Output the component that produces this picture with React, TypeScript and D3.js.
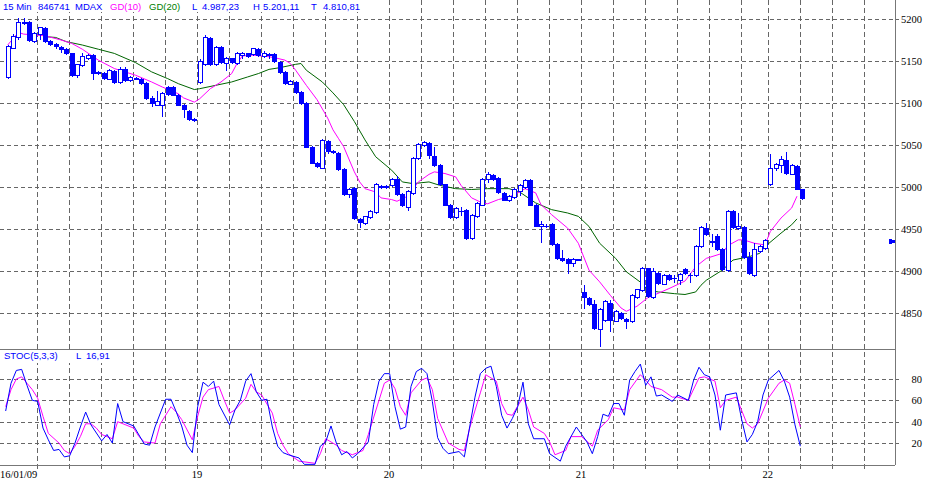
import React from "react";
import * as d3 from "d3";

// ---------- data ----------
const dayLabels = ["16/01/09", "19", "20", "21", "22"];
const dayStarts = [0, 36, 72, 108, 143];

const opens = [
  5131,5166,5178,5197,5196,5174,5182,5189,5174,5170,5167,5164,5159,5133,5145,5153,5157,5137,5136,5129,5138,5125,5140,5127,5130,5129,5124,5106,5098,5098,5119,5119,5110,5098,5091,5081,
  5125,5146,5177,5146,5167,5148,5153,5148,5157,5159,5158,5164,5156,5158,5158,5149,5137,5123,5125,5113,5100,5048,5029,5023,5055,5043,5041,5021,4992,4999,4962,4957,4964,4970,5001,5000,
  5002,5010,4992,4976,4993,5034,5050,5052,5037,5026,5003,4979,4964,4971,4973,4939,4965,4979,5009,5014,5011,4993,4984,4988,4995,5000,5008,4979,4953,4954,4956,4932,4916,4914,4909,4914,
  4875,4868,4861,4831,4842,4862,4841,4850,4843,4840,4869,4877,4903,4869,4898,4885,4895,4892,4889,4902,4895,4895,4930,4951,4936,4942,4926,4901,4971,4951,4952,4917,4895,4924,4927,
  5003,5022,5026,5032,5016,5025,4997,
];
const highs = [
  5169,5182,5201,5201,5198,5185,5191,5190,5175,5171,5168,5165,5160,5147,5160,5158,5158,5138,5137,5140,5139,5143,5143,5132,5131,5130,5125,5108,5114,5113,5120,5120,5111,5099,5092,5082,
  5152,5181,5179,5168,5168,5155,5154,5161,5161,5160,5166,5165,5162,5160,5159,5150,5138,5127,5126,5114,5101,5049,5030,5057,5056,5044,5042,5022,4999,5000,4963,4966,4972,5005,5002,5002,
  5011,5013,4993,4996,5036,5052,5055,5053,5048,5027,5004,4980,4976,4976,4974,4968,4982,5011,5018,5015,5012,4994,4990,4999,5003,5009,5010,4980,4960,4956,4957,4933,4925,4915,4915,4914,
  4883,4869,4866,4856,4865,4866,4853,4851,4844,4872,4879,4905,4904,4904,4899,4896,4896,4895,4897,4903,4897,4931,4953,4957,4944,4944,4927,4973,4973,4969,4953,4922,4933,4931,4938,
  5039,5028,5037,5042,5027,5026,4998,
];
const lows = [
  5130,5165,5176,5194,5174,5173,5176,5173,5169,5166,5161,5158,5132,5131,5144,5152,5129,5135,5129,5128,5124,5124,5126,5126,5128,5123,5105,5096,5097,5084,5110,5109,5097,5083,5080,5079,
  5124,5145,5145,5145,5148,5139,5148,5147,5154,5155,5157,5156,5155,5154,5149,5136,5123,5122,5112,5099,5047,5028,5024,5022,5041,5040,5020,4991,4988,4962,4952,4956,4963,4969,4999,4999,
  5001,4991,4977,4973,4992,5033,5049,5035,5025,5002,4978,4963,4963,4967,4938,4938,4964,4978,5006,5008,4993,4984,4983,4987,4990,4999,4978,4953,4935,4952,4931,4914,4912,4897,4906,4913,
  4856,4860,4831,4811,4841,4828,4840,4843,4832,4839,4868,4876,4869,4868,4885,4884,4889,4887,4885,4896,4887,4894,4929,4943,4930,4925,4901,4900,4951,4950,4916,4896,4894,4923,4926,
  5002,5020,5018,5016,5015,4997,4986,
];
const closes = [
  5168,5180,5196,5195,5175,5183,5190,5174,5170,5168,5164,5159,5133,5146,5156,5157,5136,5136,5130,5139,5125,5141,5127,5131,5129,5124,5106,5100,5102,5112,5111,5110,5098,5093,5081,5080,
  5150,5179,5146,5167,5149,5154,5149,5160,5159,5156,5165,5157,5160,5157,5150,5137,5124,5126,5113,5100,5048,5029,5025,5056,5043,5042,5021,4992,4998,4963,4958,4965,4971,5004,5000,5001,
  5010,4992,4978,4995,5035,5051,5054,5038,5026,5003,4979,4964,4975,4971,4939,4967,4981,5010,5015,5009,4994,4985,4989,4998,5002,5008,4979,4954,4956,4953,4932,4915,4913,4910,4914,4913,
  4869,4861,4832,4855,4864,4842,4852,4844,4841,4871,4878,4904,4870,4900,4886,4895,4890,4892,4896,4897,4895,4930,4952,4944,4935,4926,4902,4971,4952,4954,4917,4897,4926,4930,4937,
  5023,5027,5033,5017,5026,4998,4987,
];

// GD(10) / GD(20): [bar index, value]
const gd10: [number, number][] = [
  [0,5169],[2,5184],[3,5182],[7,5180],[10,5175],[12,5171],[14,5164],[17,5151],[20,5141],[24,5133],[27,5125],[29,5119],[32,5111],[33,5106],[35,5101],
  [36,5105],[38,5117],[40,5125],[42,5135],[43,5147],[44,5156],[46,5157],[49,5155],[50,5154],[52,5151],[53,5147],[54,5139],[56,5121],[58,5104],[60,5082],[61,5068],[62,5058],[63,5048],[65,5018],[66,5006],[67,4998],[69,4994],[70,4987],
  [72,4985],[73,4983],[75,4989],[77,5006],[79,5015],[80,5018],[82,5016],[84,5012],[85,5002],[87,4987],[89,4981],[90,4980],[92,4985],[94,4988],[96,4994],[97,4998],[99,4993],[100,4979],[102,4967],[105,4951],[107,4933],
  [109,4901],[111,4887],[113,4871],[115,4856],[116,4852],[118,4858],[120,4868],[124,4879],[127,4888],[129,4905],[131,4915],[134,4921],[135,4930],[137,4937],[138,4937],[140,4933],[142,4931],
  [143,4947],[145,4963],[147,4975],[148,4989],
];
const gd20: [number, number][] = [
  [7,5179],[9,5178],[11,5173],[14,5169],[17,5164],[20,5159],[24,5148],[27,5137],[30,5129],[32,5123],[35,5116],
  [36,5117],[39,5121],[42,5125],[45,5131],[47,5135],[49,5140],[51,5142],[54,5146],[55,5147],[56,5139],[59,5125],[61,5112],[63,5098],[65,5078],[67,5056],[69,5036],
  [72,5020],[74,5006],[76,5004],[79,5006],[81,5002],[84,4998],[87,4997],[90,4998],[94,4998],[96,4994],[99,4981],[102,4973],[105,4969],[107,4965],
  [109,4953],[111,4933],[114,4915],[116,4899],[119,4885],[120,4877],[122,4875],[125,4873],[127,4872],[129,4875],[130,4883],[131,4889],[134,4901],[136,4913],[139,4917],[141,4921],[142,4929],
  [145,4945],[147,4955],[148,4962],
];

// STOC(5,3,3): [bar index, value]
const stochK: [number, number][] = [
  [0,50],[1,76],[2,88],[3,89],[4,74],[5,60],[6,59],[7,34],[8,23],[9,13],[10,14],[11,7],[12,8],[13,20],[14,35],[15,49],[16,37],[18,22],[19,28],[20,20],[21,57],[22,40],[24,36],[26,19],[27,18],[28,35],[30,61],[31,61],[32,49],[33,36],[34,18],[35,11],
  [36,54],[37,77],[38,73],[39,78],[40,56],[42,37],[43,51],[44,60],[45,78],[46,85],[47,68],[48,60],[49,61],[50,35],[51,17],[52,11],[53,9],[55,6],[56,0],[58,0],[59,17],[60,21],[61,36],[62,20],[63,9],[64,12],[65,6],[66,10],[68,21],[69,56],[70,78],[71,85],
  [72,85],[73,54],[74,33],[75,35],[76,73],[77,87],[78,90],[79,85],[80,59],[81,25],[82,15],[83,10],[85,12],[86,7],[87,35],[88,63],[89,85],[90,90],[91,92],[92,73],[93,46],[94,34],[95,43],[96,54],[97,77],[98,38],[99,24],[101,24],[102,10],[104,3],[105,17],[107,35],
  [108,28],[109,21],[110,10],[111,26],[112,47],[113,45],[114,57],[115,57],[116,46],[117,79],[118,87],[119,94],[120,74],[121,82],[122,64],[123,65],[125,59],[126,65],[128,60],[129,79],[130,91],[131,84],[132,82],[133,65],[134,32],[135,65],[137,67],[138,42],[139,21],[140,28],[141,40],[142,65],
  [143,79],[145,88],[146,78],[147,63],[148,37],[149,17],
];
const stochD: [number, number][] = [
  [0,54],[1,70],[2,80],[3,82],[4,76],[5,70],[6,62],[7,45],[8,29],[10,20],[11,13],[12,10],[13,17],[14,26],[15,38],[16,38],[17,34],[18,28],[20,24],[21,40],[22,38],[24,34],[25,26],[26,21],[28,20],[29,38],[31,54],[32,49],[33,42],[35,23],
  [36,45],[37,63],[38,70],[40,73],[41,60],[42,48],[43,51],[45,62],[46,75],[47,68],[48,65],[50,48],[51,29],[52,18],[53,10],[55,3],[58,1],[59,10],[60,24],[62,18],[63,13],[65,9],[67,13],[68,28],[70,60],[71,76],
  [72,79],[73,71],[74,54],[75,46],[76,67],[78,79],[79,81],[80,70],[81,43],[83,20],[85,14],[86,13],[87,34],[89,67],[90,84],[92,78],[93,57],[94,47],[95,46],[97,63],[98,51],[99,35],[101,29],[102,21],[103,9],[105,13],[106,26],
  [108,26],[110,17],[111,32],[113,42],[114,53],[116,51],[117,70],[119,84],[120,79],[121,73],[123,70],[125,63],[126,63],[128,60],[130,81],[131,82],[133,78],[134,53],[135,60],[137,63],[139,38],[140,34],[141,38],
  [143,62],[145,76],[146,79],[147,76],[148,56],[149,35],
];

const priceTicks = [4850, 4900, 4950, 5000, 5050, 5100, 5150, 5200];
const stochTicks = [20, 40, 60, 80];
const lastMarker = 4936;

const headerTexts = ["15 Min", "846741", "MDAX", "GD(10)", "GD(20)", "L", "4.987,23", "H", "5.201,11", "T", "4.810,81"];
const stochHeaderTexts = ["STOC(5,3,3)", "L", "16,91"];

// ---------- layout ----------
const W = 926, H = 483;
const PLOT_R = 895;
const MAIN_BOTTOM = 349;
const STOCH_BOTTOM = 465;
const TOTAL_SLOTS = 168;
const SLOT = 5.3333;

const BLUE = "#0000ff";
const MAGENTA = "#ff00ff";
const GREEN = "#006400";
const GRID = "#666666";
const BORDER = "#777777";

const headerX = [3, 38, 75, 110, 149, 192, 202, 253, 263, 311, 323];
const headerColors = [BLUE, BLUE, BLUE, MAGENTA, "#008000", BLUE, BLUE, BLUE, BLUE, BLUE, BLUE];
const stochHeaderX = [4, 76, 86];

export default function App() {
  const x = d3.scaleLinear().domain([0, TOTAL_SLOTS]).range([5, 5 + TOTAL_SLOTS * SLOT]);
  const y = d3.scaleLinear().domain([4807.1, 5222.6]).range([MAIN_BOTTOM, 0]);
  const ys = d3.scaleLinear().domain([-0.6, 108.1]).range([STOCH_BOTTOM, MAIN_BOTTOM]);

  const gridIdx: number[] = [];
  dayStarts.forEach((s, d) => {
    const end = d < dayStarts.length - 1 ? dayStarts[d + 1] : TOTAL_SLOTS - 2;
    for (let k = s; k < end; k += 6) if (k > 0) gridIdx.push(k);
  });

  const maLine = d3.line<[number, number]>().x((d) => x(d[0] + 0.5)).y((d) => y(d[1]));
  const stLine = d3.line<[number, number]>().x((d) => x(d[0] + 0.125)).y((d) => ys(d[1]));

  const font = "'Liberation Sans', Arial, sans-serif";
  const serif = "'Liberation Serif', 'Times New Roman', serif";
  const my = Math.round(y(lastMarker));

  return (
    <svg width={W} height={H} style={{ position: "fixed", left: 0, top: 0, background: "#fff" }}>
      <rect x={0} y={0} width={W} height={H} fill="#fff" />
      {/* horizontal grid */}
      {priceTicks.map((p) => (
        <line key={"hp" + p} x1={0} x2={899} y1={Math.round(y(p)) + 0.5} y2={Math.round(y(p)) + 0.5}
          stroke={GRID} strokeDasharray="4,3" shapeRendering="crispEdges" />
      ))}
      {stochTicks.map((v) => (
        <line key={"hs" + v} x1={0} x2={899} y1={Math.round(ys(v)) + 0.5} y2={Math.round(ys(v)) + 0.5}
          stroke={GRID} strokeDasharray="4,3" shapeRendering="crispEdges" />
      ))}
      {/* vertical grid */}
      {gridIdx.map((k) => (
        <line key={"v" + k} x1={Math.round(x(k)) + 0.5} x2={Math.round(x(k)) + 0.5} y1={0} y2={470}
          stroke={GRID} strokeDasharray="5,3" shapeRendering="crispEdges" />
      ))}
      {/* header backgrounds */}
      <rect x={0} y={0} width={365} height={12} fill="#fff" />
      <rect x={0} y={350} width={113} height={13} fill="#fff" />
      {/* borders */}
      <line x1={0} x2={PLOT_R} y1={MAIN_BOTTOM + 0.5} y2={MAIN_BOTTOM + 0.5} stroke={BORDER} shapeRendering="crispEdges" />
      <line x1={0} x2={PLOT_R} y1={STOCH_BOTTOM + 0.5} y2={STOCH_BOTTOM + 0.5} stroke={BORDER} shapeRendering="crispEdges" />
      <line x1={PLOT_R + 0.5} x2={PLOT_R + 0.5} y1={0} y2={STOCH_BOTTOM} stroke={BORDER} shapeRendering="crispEdges" />

      {/* moving averages */}
      <path d={maLine(gd20) || ""} fill="none" stroke={GREEN} strokeWidth={1} />
      <path d={maLine(gd10) || ""} fill="none" stroke={MAGENTA} strokeWidth={1} />

      {/* candles */}
      {closes.map((c, i) => {
        const o = opens[i];
        const cx = Math.round(x(i + 0.5));
        const yt = Math.round(y(Math.max(o, c)));
        const yb = Math.round(y(Math.min(o, c)));
        const up = c > o;
        return (
          <g key={"c" + i} shapeRendering="crispEdges">
            <line x1={cx + 0.5} x2={cx + 0.5} y1={Math.round(y(highs[i]))} y2={Math.round(y(lows[i])) + 1} stroke={BLUE} />
            {yb - yt < 1 ? (
              <line x1={cx - 2} x2={cx + 3} y1={yt + 0.5} y2={yt + 0.5} stroke={BLUE} />
            ) : (
              <rect x={cx - 1.5} y={yt + 0.5} width={4} height={yb - yt} fill={up ? "#fff" : BLUE} stroke={BLUE} />
            )}
          </g>
        );
      })}

      {/* stochastic */}
      <path d={stLine(stochD) || ""} fill="none" stroke={MAGENTA} strokeWidth={1} />
      <path d={stLine(stochK) || ""} fill="none" stroke={BLUE} strokeWidth={1} />

      {/* header */}
      {headerTexts.map((t, i) => (
        <text key={"h" + i} x={headerX[i]} y={10} fontFamily={font} fontSize={9.5} fill={headerColors[i]}>{t}</text>
      ))}
      {stochHeaderTexts.map((t, i) => (
        <text key={"sh" + i} x={stochHeaderX[i]} y={358.5} fontFamily={font} fontSize={9.5} fill={BLUE}>{t}</text>
      ))}

      {/* right axis labels */}
      {priceTicks.map((p) => (
        <text key={"pl" + p} x={922} y={Math.round(y(p)) + 4} textAnchor="end" fontFamily={serif} fontSize={10.5} fill="#000">{p}</text>
      ))}
      {stochTicks.map((v) => (
        <text key={"sl" + v} x={922} y={Math.round(ys(v)) + 4} textAnchor="end" fontFamily={serif} fontSize={10.5} fill="#000">{v}</text>
      ))}
      {/* last value marker */}
      <path d={`M889,${my - 2}h3v5h-3z`} fill={BLUE} shapeRendering="crispEdges" />
      <path d={`M892,${my - 1}h3v3h-3z`} fill={BLUE} shapeRendering="crispEdges" />

      {/* x labels */}
      {dayLabels.map((l, d) => (
        <text key={"xl" + d} x={d === 0 ? 0 : x(dayStarts[d])} y={478} textAnchor={d === 0 ? "start" : "middle"}
          fontFamily={serif} fontSize={10.5} fill="#000">{l}</text>
      ))}
    </svg>
  );
}
